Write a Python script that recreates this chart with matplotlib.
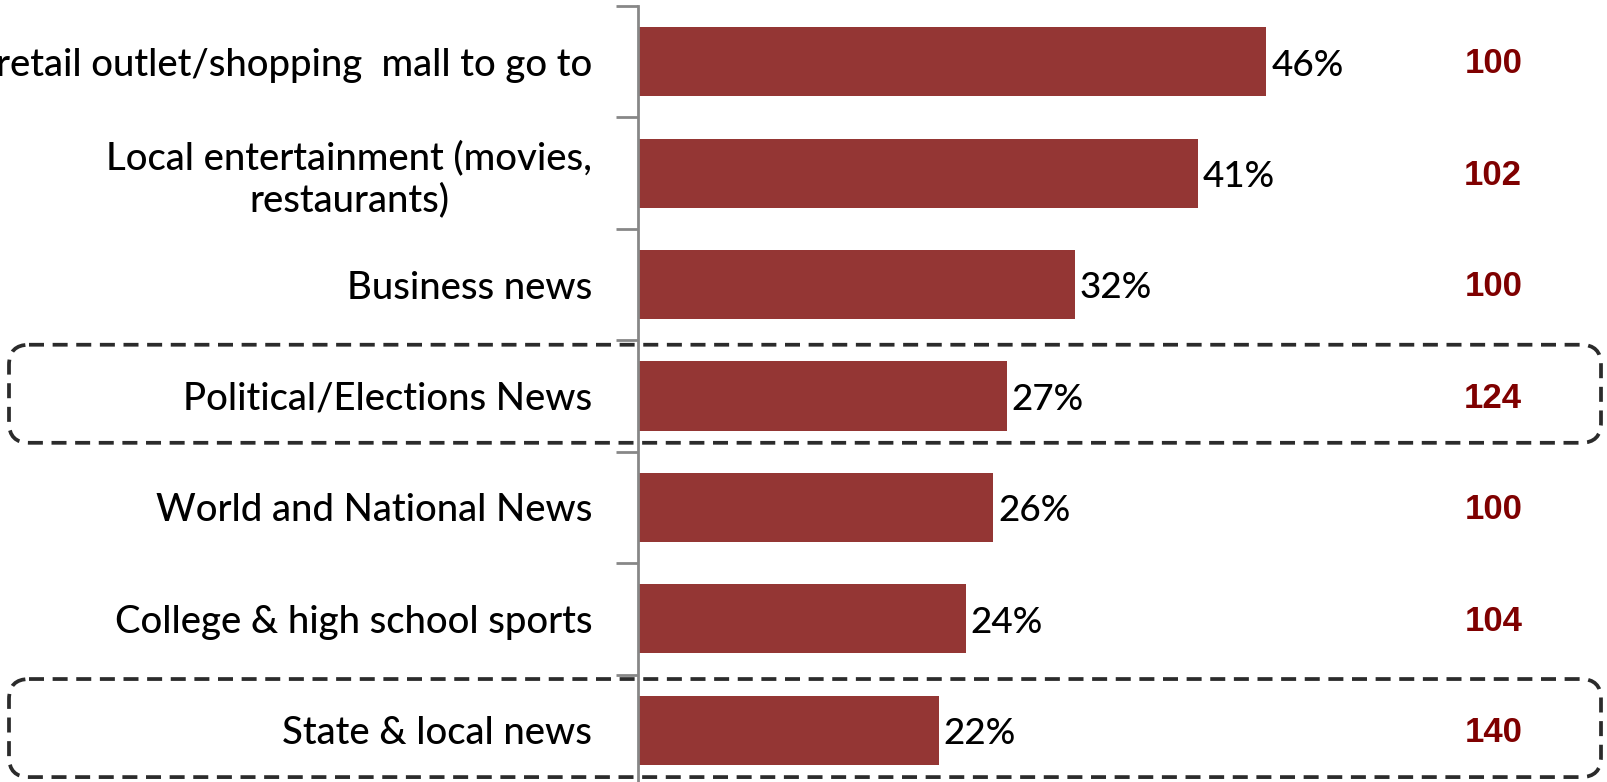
import matplotlib
matplotlib.use('Agg')
import matplotlib.pyplot as plt
from matplotlib.patches import FancyBboxPatch
import numpy as np

# Share of respondents by content type, with index vs. total
categories = ['retail outlet/shopping  mall to go to',
              'Local entertainment (movies,\nrestaurants)',
              'Business news',
              'Political/Elections News',
              'World and National News',
              'College & high school sports',
              'State & local news']
shares = [46, 41, 32, 27, 26, 24, 22]
index_values = [100, 102, 100, 124, 100, 104, 140]
highlighted = ['Political/Elections News', 'State & local news']

bar_color = '#943634'
index_color = '#7f0000'
axis_color = '#878787'
label_font = 'Lato'

W, H = 1608, 782
fig = plt.figure(figsize=(W / 100, H / 100), dpi=100)
ax = fig.add_axes([638 / W, -4 / H, 970 / W, 780 / H])

y = np.arange(len(categories))
ax.barh(y, shares, height=0.62, color=bar_color)
ax.set_ylim(len(categories) - 0.5, -0.5)
ax.set_xlim(0, 71)

# category labels sit left of the axis, tick marks on the category boundaries
ax.set_yticks(y)
ax.set_yticklabels(categories, fontsize=27.5, family=label_font,
                   fontweight='medium', multialignment='center')
ax.tick_params(axis='y', which='major', length=0, pad=33)
ax.set_yticks(np.arange(len(categories) + 1) - 0.5, minor=True)
ax.tick_params(axis='y', which='minor', length=16, width=2, color=axis_color)
ax.set_xticks([])
for side in ['top', 'right', 'bottom']:
    ax.spines[side].set_visible(False)
ax.spines['left'].set_color(axis_color)
ax.spines['left'].set_linewidth(2)

for i, (v, idx) in enumerate(zip(shares, index_values)):
    ax.text(v + 0.35, i + 0.03, f'{v}%', va='center', ha='left',
            fontsize=26.5, family=label_font, fontweight='medium',
            color='black')
    ax.text(62.6, i + 0.02, str(idx), va='center', ha='center',
            fontsize=25, family='Liberation Sans', fontweight='bold',
            color=index_color)

# dashed rounded frames around the highlighted rows, drawn over everything
overlay = fig.add_axes([0, 0, 1, 1], zorder=5)
overlay.set_xlim(0, W)
overlay.set_ylim(H, 0)
overlay.axis('off')
fig.canvas.draw()
for name in highlighted:
    i = categories.index(name)
    top = ax.transData.transform((0, i - 0.46))[1]
    bottom = ax.transData.transform((0, i + 0.42))[1]
    y0, y1 = H - top, H - bottom
    box = FancyBboxPatch((9, y0), W - 16, y1 - y0,
                         boxstyle='round,pad=0,rounding_size=20',
                         fill=False, edgecolor='#2b2b2b', linewidth=2.7,
                         linestyle=(0, (4, 2.3)))
    overlay.add_patch(box)

fig.savefig('out.png', dpi=100)
